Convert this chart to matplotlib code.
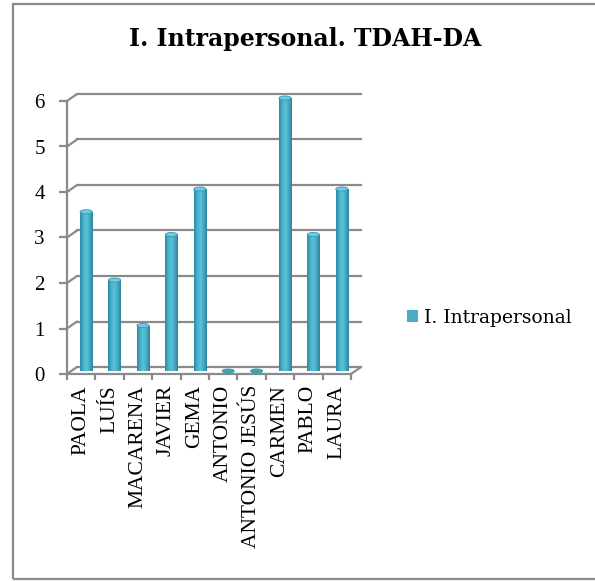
import matplotlib
matplotlib.use("Agg")
import matplotlib.pyplot as plt
import matplotlib.transforms as mtransforms
from matplotlib.patches import Rectangle, ConnectionPatch, Ellipse
from matplotlib.colors import LinearSegmentedColormap
import numpy as np

categories = ["PAOLA", "LUÍS", "MACARENA", "JAVIER", "GEMA", "ANTONIO",
              "ANTONIO JESÚS", "CARMEN", "PABLO", "LAURA"]
values = [3.5, 2, 1, 3, 4, 0, 0, 6, 3, 4]
yticks = [0, 1, 2, 3, 4, 5, 6]
ytick_labels = ["0", "1", "2", "3", "4", "5", "6"]
title = "I. Intrapersonal. TDAH-DA"
series_name = "I. Intrapersonal"

W, H = 595, 581
DPI = 100
fig = plt.figure(figsize=(W / DPI, H / DPI), dpi=DPI)
fig.patch.set_facecolor("white")

GRID = "#8a8a8a"
BAR = "#4BACC6"
SERIF = ["Liberation Serif", "DejaVu Serif"]
TITLE_FONT = ["DejaVu Serif"]

# outer chart frame
fig.patches.append(Rectangle((13 / W, 1 - 579 / H), (W + 10 - 13) / W, (579 - 4) / H,
                             transform=fig.transFigure, fill=False,
                             edgecolor=GRID, linewidth=1.6, zorder=0))

# axes (front plane)
x0, x1, ytop, ybot = 67, 351, 101, 374
ax = fig.add_axes([x0 / W, 1 - ybot / H, (x1 - x0) / W, (ybot - ytop) / H])
ax.set_xlim(-0.5, len(categories) - 0.5)
ax.set_ylim(0, 6)
ax.set_facecolor("none")
for s in ["top", "right"]:
    ax.spines[s].set_visible(False)
for s in ["left", "bottom"]:
    ax.spines[s].set_color(GRID)
    ax.spines[s].set_linewidth(1.6)

off_back = mtransforms.ScaledTranslation(10 / DPI, 7 / DPI, fig.dpi_scale_trans)
back_tr = ax.transData + off_back
off_bar = mtransforms.ScaledTranslation(5 / DPI, 3 / DPI, fig.dpi_scale_trans)
bar_tr = ax.transData + off_bar

xl = ax.get_xlim()
# back wall gridlines and connectors
for v in yticks:
    ax.plot(xl, [v, v], transform=back_tr, color=GRID, lw=1.6, clip_on=False, zorder=1)
    cp = ConnectionPatch(xyA=(xl[0], v), coordsA=ax.transData,
                         xyB=(xl[0], v), coordsB=back_tr,
                         color=GRID, lw=1.6, zorder=1)
    fig.add_artist(cp)
# floor right edge
fig.add_artist(ConnectionPatch(xyA=(xl[1], 0), coordsA=ax.transData,
                               xyB=(xl[1], 0), coordsB=back_tr,
                               color=GRID, lw=1.6, zorder=1))

# bars with cylinder shading
xs = np.arange(len(categories))
bw = 0.43
cmap = LinearSegmentedColormap.from_list(
    "cyl", ["#2b87a0", "#48b2cb", "#5cbfd7", "#45aac3", "#2a829b"])
grad = np.linspace(0, 1, 64).reshape(1, -1)
bars = ax.bar(xs, values, width=bw, color=BAR, transform=bar_tr, zorder=3,
              clip_on=False, linewidth=0)
for b, v in zip(bars, values):
    if v > 0:
        im = ax.imshow(grad, cmap=cmap, aspect="auto", interpolation="bilinear",
                       extent=[b.get_x(), b.get_x() + bw, 0, v], zorder=4)
        im.set_transform(bar_tr)
        im.set_clip_path(b)
    cap = Ellipse((b.get_x() + bw / 2, v), bw, 0.09, transform=bar_tr,
                  facecolor="#6fcbe0" if v > 0 else "#3e9fb8",
                  edgecolor="#3a9ab3", lw=0.6, zorder=5, clip_on=False)
    ax.add_patch(cap)
ax.set_xlim(xl)
ax.set_ylim(0, 6)

# ticks
ax.set_yticks(yticks)
ax.set_yticklabels(ytick_labels, fontfamily=SERIF, fontsize=15)
ax.tick_params(axis="y", direction="out", length=6, width=1.6, color=GRID, pad=10)
ax.set_xticks(xs)
ax.set_xticklabels(categories, rotation=90, fontfamily=SERIF, fontsize=15.5,
                   va="top", ha="center")
ax.tick_params(axis="x", which="major", length=0, pad=8)
ax.set_xticks(np.arange(-0.5, len(categories), 1.0), minor=True)
ax.tick_params(axis="x", which="minor", direction="out", length=4, width=1.6, color=GRID)

# title
fig.text(305 / W, 1 - 39 / H, title, ha="center", va="center",
         fontfamily=TITLE_FONT, fontweight="bold", fontsize=17)

# legend
handle = Rectangle((0, 0), 1, 1, facecolor=BAR, edgecolor="none")
fig.legend([handle], [series_name], loc="center left",
           bbox_to_anchor=(390 / W, 1 - 318 / H), frameon=False,
           prop={"family": TITLE_FONT, "size": 13.5},
           handlelength=0.6, handleheight=0.6, handletextpad=0.3)

fig.savefig("out.png", dpi=DPI, facecolor="white")
